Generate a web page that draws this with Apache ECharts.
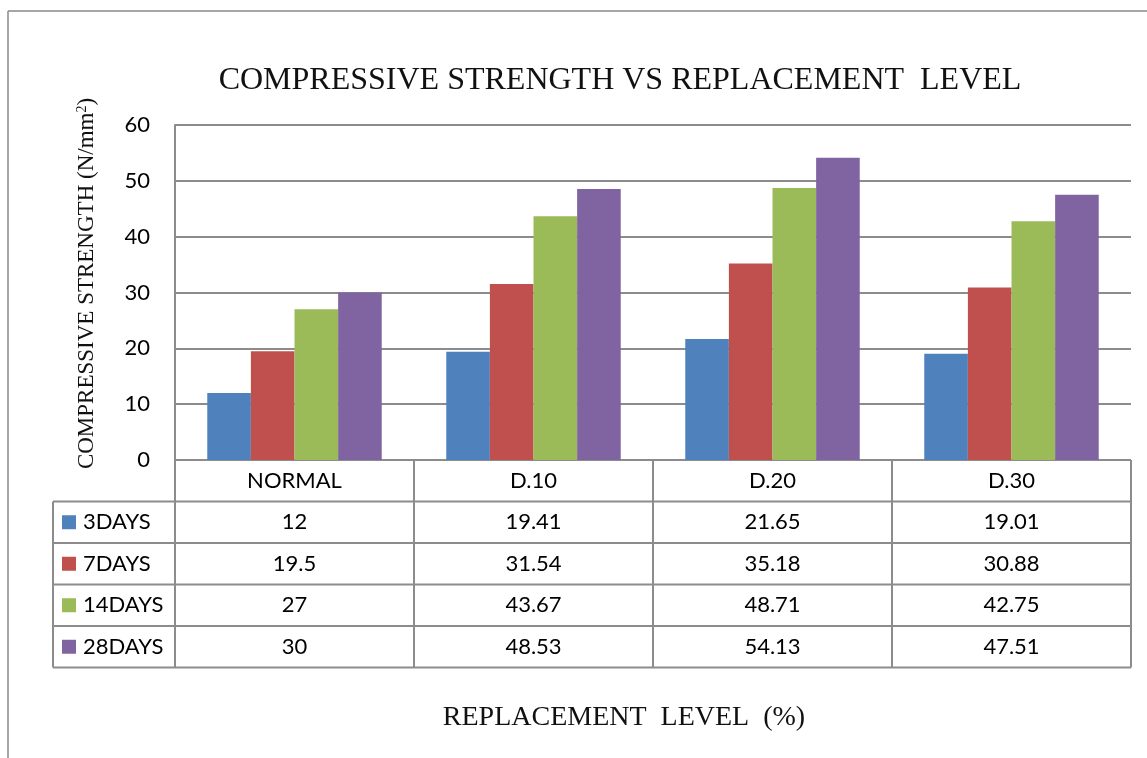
<!DOCTYPE html>
<html>
<head>
<meta charset="utf-8">
<script src="https://cdn.jsdelivr.net/npm/echarts@6/dist/echarts.min.js"></script>
<style>
  html, body { margin: 0; padding: 0; background: #fff; }
  #chart { width: 1147px; height: 758px; }
</style>
</head>
<body>
<div id="chart"></div>
<script>
// categories and series
var levels = ['NORMAL', 'D.10', 'D.20', 'D.30'];
var seriesNames = ['3DAYS', '7DAYS', '14DAYS', '28DAYS'];
var days3 = [12, 19.41, 21.65, 19.01];
var days7 = [19.5, 31.54, 35.18, 30.88];
var days14 = [27, 43.67, 48.71, 42.75];
var days28 = [30, 48.53, 54.13, 47.51];
var colors = ['#4F81BD', '#C0504D', '#9BBB59', '#8064A2'];

var allData = [days3, days7, days14, days28];

var chartObj = echarts.init(document.getElementById('chart'));

// layout of plot area / table
var gl = 175, gt = 125, gr = 1131, gb = 460;
var rowH = 41.5;
var tableLeft = 53;
var lineCol = '#8c8c8c';
var cellFont = 'Lato, "Liberation Sans", sans-serif';
var fs = 22;

var series = [];
for (var i = 0; i < seriesNames.length; i++) {
	series.push({
		name: seriesNames[i],
		type: 'bar',
		barGap: 0,
		barCategoryGap: '27%',
		itemStyle: { color: colors[i] },
		data: allData[i]
	});
}

// table drawn as graphic elements (values from the arrays above)
var graphics = [];
var colW = (gr - gl) / levels.length;
var nRows = seriesNames.length;
var tableBottom = gb + rowH * (nRows + 1);

// outer frame
graphics.push({ type: 'line', shape: { x1: 8, y1: 11, x2: 1147, y2: 11 }, style: { stroke: '#888', lineWidth: 1.5 } });
graphics.push({ type: 'line', shape: { x1: 8, y1: 11, x2: 8, y2: 758 }, style: { stroke: '#888', lineWidth: 1.5 } });

// horizontal lines
graphics.push({ type: 'line', shape: { x1: gl, y1: gb, x2: gr, y2: gb }, style: { stroke: lineCol, lineWidth: 2 } });
for (var r = 1; r <= nRows + 1; r++) {
	var yy = gb + rowH * r;
	graphics.push({ type: 'line', shape: { x1: tableLeft, y1: yy, x2: gr, y2: yy }, style: { stroke: lineCol, lineWidth: 2 } });
}
// vertical lines
graphics.push({ type: 'line', shape: { x1: tableLeft, y1: gb + rowH, x2: tableLeft, y2: tableBottom }, style: { stroke: lineCol, lineWidth: 2 } });
for (var c = 0; c <= levels.length; c++) {
	var xx = gl + colW * c;
	graphics.push({ type: 'line', shape: { x1: xx, y1: gb, x2: xx, y2: tableBottom }, style: { stroke: lineCol, lineWidth: 2 } });
}
// legend keys + values
for (var r = 0; r < nRows; r++) {
	var cy = gb + rowH * (r + 1) + rowH / 2;
	graphics.push({ type: 'rect', shape: { x: 62, y: cy - 7, width: 14, height: 14 }, style: { fill: colors[r] } });
	graphics.push({ type: 'text', x: 83, y: cy, style: { text: seriesNames[r], font: fs + 'px ' + cellFont, fill: '#000', verticalAlign: 'middle', align: 'left' } });
	for (var c = 0; c < levels.length; c++) {
		graphics.push({ type: 'text', x: gl + colW * (c + 0.5), y: cy, style: { text: String(allData[r][c]), font: fs + 'px ' + cellFont, fill: '#000', verticalAlign: 'middle', align: 'center' } });
	}
}
// x axis title
graphics.push({ type: 'text', x: 624, y: 718, style: { text: 'REPLACEMENT  LEVEL  (%)', font: '28px "Liberation Serif", serif', fill: '#111', verticalAlign: 'middle', align: 'center' } });

var option = {
	backgroundColor: '#fff',
	animation: false,
	title: {
		text: 'COMPRESSIVE STRENGTH VS REPLACEMENT  LEVEL',
		left: 615,
		textAlign: 'center',
		top: 60,
		textStyle: { fontFamily: '"Liberation Serif", serif', fontSize: 32, fontWeight: 'normal', color: '#111' }
	},
	grid: { left: gl, top: gt, right: 1147 - gr, bottom: 758 - gb },
	xAxis: {
		type: 'category',
		data: levels,
		axisLine: { show: false },
		axisTick: { show: false },
		axisLabel: { margin: 10, fontFamily: cellFont, fontSize: fs, color: '#000' }
	},
	yAxis: {
		type: 'value',
		min: 0,
		max: 60,
		interval: 10,
		name: 'COMPRESSIVE STRENGTH (N/mm{sup|2})',
		nameLocation: 'middle',
		nameGap: 76,
		nameTextStyle: {
			fontFamily: '"Liberation Serif", serif',
			fontSize: 23,
			color: '#111',
			padding: [0, 0, 0, 18],
			rich: { sup: { fontFamily: '"Liberation Serif", serif', fontSize: 14, verticalAlign: 'top', padding: [0, 0, 10, 0], color: '#111' } }
		},
		axisLine: { show: true, lineStyle: { color: lineCol, width: 2 } },
		axisTick: { show: false },
		axisLabel: { margin: 25, fontFamily: cellFont, fontSize: fs, color: '#000' },
		splitLine: { lineStyle: { color: lineCol, width: 2 } }
	},
	graphic: graphics,
	series: series
};

chartObj.setOption(option);
</script>
</body>
</html>
